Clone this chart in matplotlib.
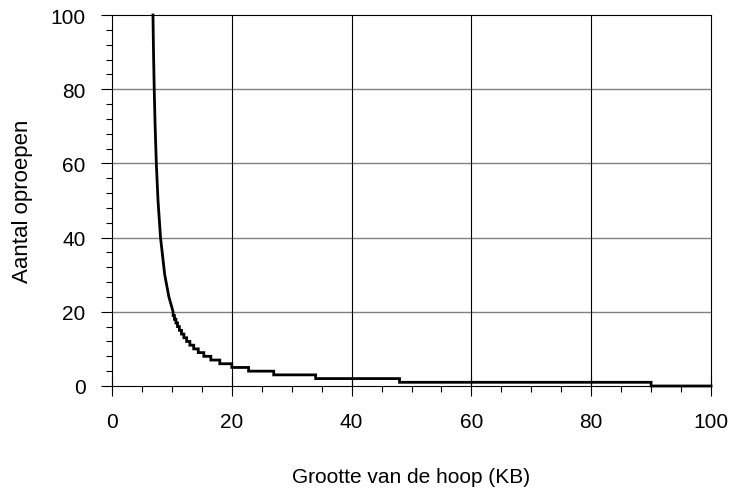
import matplotlib
matplotlib.use("Agg")
import matplotlib.pyplot as plt
from matplotlib.ticker import MultipleLocator

plt.rcParams['font.family'] = ['Liberation Sans', 'DejaVu Sans']

# Smooth (steep) part of the curve: heap size (KB) vs number of calls
curve_kb = [6.84, 6.93, 7.05, 7.2, 7.4, 7.68, 8.1, 8.8, 9.5, 10.2]
curve_calls = [100, 90, 80, 70, 60, 50, 40, 30, 24, 20]

# Step part: heap size where the call count drops to the given level
step_kb = [10.2, 10.42, 10.67, 10.94, 11.25, 11.6, 12.0, 12.46, 13.0, 13.64,
           14.4, 15.33, 16.5, 18.0, 20.0, 22.8, 27.0, 34.0, 48.0, 90.0]
step_calls = [19, 18, 17, 16, 15, 14, 13, 12, 11, 10,
              9, 8, 7, 6, 5, 4, 3, 2, 1, 0]
x_end = 100

xs = list(curve_kb)
ys = list(curve_calls)
for edge, level in zip(step_kb, step_calls):
    xs += [edge, edge]
    ys += [ys[-1], level]
xs.append(x_end)
ys.append(ys[-1])

fig = plt.figure(figsize=(7.31, 4.89), dpi=100)
ax = fig.add_axes([112/731, 1 - 387/489, (711-112)/731, (387-16)/489])

ax.plot(xs, ys, color='black', lw=2.0, solid_joinstyle='miter', clip_on=False, zorder=5)

ax.set_xlim(0, 100)
ax.set_ylim(0, 100)
ax.xaxis.set_major_locator(MultipleLocator(20))
ax.xaxis.set_minor_locator(MultipleLocator(5))
ax.yaxis.set_major_locator(MultipleLocator(20))
ax.yaxis.set_minor_locator(MultipleLocator(4))

for y in [20, 40, 60, 80]:
    ax.axhline(y, color='#808080', lw=1.0, zorder=1)
for x in [20, 40, 60, 80]:
    ax.axvline(x, color='black', lw=0.8, zorder=1)

for s in ax.spines.values():
    s.set_color('black')
    s.set_linewidth(0.8)

ax.tick_params(axis='x', which='major', direction='inout', length=14, width=0.8,
               labelsize=15, pad=12)
ax.tick_params(axis='x', which='minor', direction='out', length=4, width=0.8)
ax.tick_params(axis='y', which='major', direction='out', length=8, width=0.8,
               labelsize=15, pad=11)
ax.tick_params(axis='y', which='minor', direction='out', length=4, width=0.8)

ax.set_xlabel('Grootte van de hoop (KB)', fontsize=15, labelpad=26)
ax.set_ylabel('Aantal oproepen', fontsize=16)
ax.yaxis.set_label_coords((33 - 112) / 599, 0.5)

fig.savefig('out.png', dpi=100)
